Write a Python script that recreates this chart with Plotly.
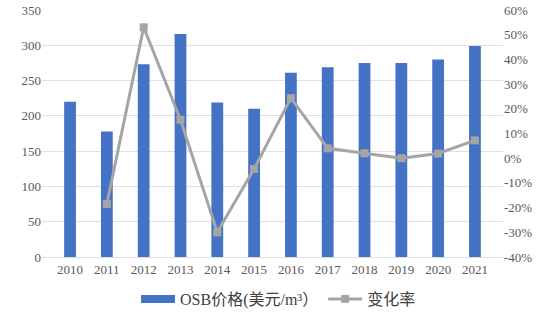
import plotly.graph_objects as go

years = ["2010", "2011", "2012", "2013", "2014", "2015", "2016", "2017", "2018", "2019", "2020", "2021"]
osb_price = [220, 178, 273, 316, 219, 210, 261, 269, 275, 275, 280, 299]
change_rate = [None, -18.5, 53.0, 15.6, -30.0, -4.3, 24.3, 4.0, 2.0, 0.0, 1.9, 7.2]

left_ticks = [0, 50, 100, 150, 200, 250, 300, 350]
right_ticks = [-40, -30, -20, -10, 0, 10, 20, 30, 40, 50, 60]

font_family = "Liberation Serif, Times New Roman, Noto Sans CJK SC, serif"
bar_name = "OSB价格(美元/m³）"

fig = go.Figure()
fig.add_trace(go.Bar(
    x=years, y=osb_price, name=bar_name, showlegend=False,
    marker=dict(color="#4472C4", line=dict(width=0)), width=0.32, yaxis="y",
))
# legend proxy giving a wide rectangular swatch like the original
fig.add_trace(go.Scatter(
    x=[None], y=[None], name=bar_name, mode="lines",
    line=dict(color="#4472C4", width=8), yaxis="y", hoverinfo="skip",
))
fig.add_trace(go.Scatter(
    x=years, y=change_rate, name="变化率", mode="lines+markers",
    line=dict(color="#A5A5A5", width=3),
    marker=dict(symbol="square", size=8, color="#A5A5A5"),
    yaxis="y2", connectgaps=False,
))

fig.update_layout(
    width=557, height=316,
    margin=dict(l=42, r=54, t=10, b=59, autoexpand=False),
    paper_bgcolor="white", plot_bgcolor="white",
    font=dict(family=font_family, size=13, color="#595959"),
    showlegend=True,
    legend=dict(orientation="h", x=0.5, xanchor="center", xref="container",
                y=22, yref="container", yanchor="middle",
                font=dict(size=16, color="#404040"), itemwidth=34, tracegroupgap=0),
    xaxis=dict(type="category", showgrid=False, showline=True, linecolor="#E0E0E0",
               ticks="", automargin=False, tickfont=dict(size=13, color="#595959")),
    yaxis=dict(range=[0, 350], tickvals=left_ticks, showgrid=True, gridcolor="#E0E0E0",
               gridwidth=1, zeroline=False, ticks="", automargin=False,
               tickfont=dict(size=13, color="#595959")),
    yaxis2=dict(range=[-40, 60], tickvals=right_ticks, ticktext=[f"{v}%" for v in right_ticks],
                overlaying="y", side="right", showgrid=False, zeroline=False, ticks="",
                automargin=False, tickfont=dict(size=13, color="#595959")),
)

fig.write_html("out.html")
